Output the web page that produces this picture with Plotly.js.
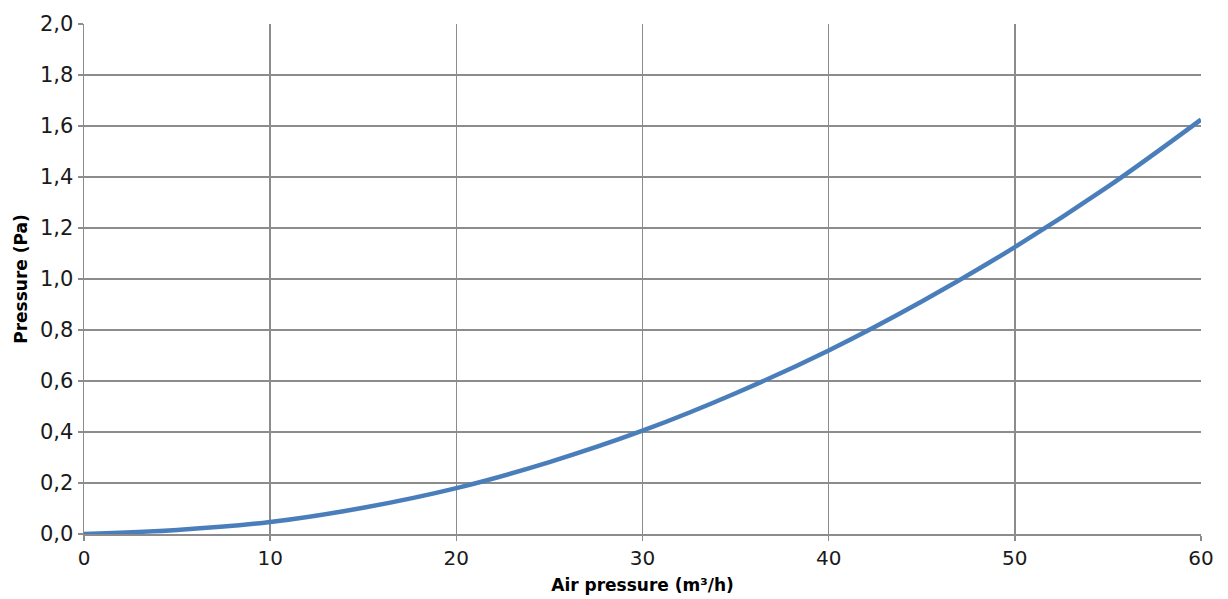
<!DOCTYPE html>
<html>
<head>
<meta charset="utf-8">
<script src="https://cdn.plot.ly/plotly-3.0.1.min.js"></script>
<style>html,body{margin:0;padding:0;background:#fff;}#chart{width:1228px;height:599px;}</style>
</head>
<body>
<div id="chart"></div>
<script>
const airFlow = [0, 5, 10, 15, 20, 25, 30, 35, 40, 45, 50, 55, 60];
const pressure = [0.0, 0.016, 0.047, 0.103, 0.18, 0.282, 0.405, 0.552, 0.72, 0.912, 1.125, 1.362, 1.625];
const yTicks = [0, 0.2, 0.4, 0.6, 0.8, 1.0, 1.2, 1.4, 1.6, 1.8, 2.0];
const yTickLabels = ["0,0","0,2","0,4","0,6","0,8","1,0","1,2","1,4","1,6","1,8","2,0"];
const xTicks = [0, 10, 20, 30, 40, 50, 60];

const fontFam = "'DejaVu Sans', sans-serif";
Plotly.newPlot('chart', [{
  x: airFlow, y: pressure, type: 'scatter', mode: 'lines',
  line: {color: '#4a7ebb', width: 4.5, shape: 'spline', smoothing: 1},
  hoverinfo: 'skip'
}], {
  width: 1228, height: 599,
  margin: {l: 84, r: 27, t: 24, b: 65},
  paper_bgcolor: '#ffffff', plot_bgcolor: '#ffffff',
  showlegend: false,
  font: {family: fontFam, color: '#1a1a1a', size: 20},
  xaxis: {
    range: [0, 60], tickvals: xTicks, ticktext: xTicks.map(String),
    showgrid: true, gridcolor: '#8c8c8c', gridwidth: 1.5,
    showline: true, linecolor: '#8c8c8c', linewidth: 1.5,
    ticks: 'outside', ticklen: 5, tickcolor: '#8c8c8c', tickwidth: 1.5,
    zeroline: false, tickfont: {size: 20},
    title: {text: 'Air pressure (m³/h)', font: {size: 17, family: fontFam, weight: 'bold', color: '#000'}, standoff: 10}
  },
  yaxis: {
    range: [0, 2.0], tickvals: yTicks, ticktext: yTickLabels,
    showgrid: true, gridcolor: '#8c8c8c', gridwidth: 1.5,
    showline: true, linecolor: '#8c8c8c', linewidth: 1.5,
    ticks: 'outside', ticklen: 5, tickcolor: '#8c8c8c', tickwidth: 1.5,
    zeroline: false, tickfont: {size: 21},
    title: {text: 'Pressure (Pa)', font: {size: 17, family: fontFam, weight: 'bold', color: '#000'}, standoff: 8}
  }
}, {staticPlot: true, displayModeBar: false});
</script>
</body>
</html>
